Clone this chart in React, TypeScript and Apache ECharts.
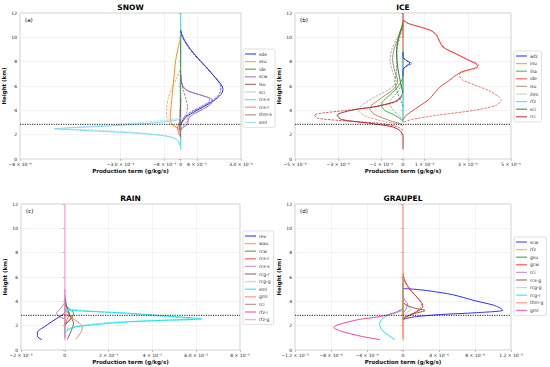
import React, { useEffect, useRef } from 'react';
import * as echarts from 'echarts';

// ---------------- axes / ticks ----------------
const heightMin = 0;
const heightMax = 12;
const heightStep = 2;
const freezingLevel = 2.85;

const snowTicks = [-8e-4, -3e-4, -8e-5, 0, 8e-5, 3e-4];
const snowTickLabels = ['−8 × 10⁻⁴', '−3.0 × 10⁻⁴', '−8 × 10⁻⁵', '0', '8 × 10⁻⁵', '3.0 × 10⁻⁴'];
const iceTicks = [-5e-4, -3e-4, -1e-4, 0, 1e-4, 3e-4, 5e-4];
const iceTickLabels = ['−5 × 10⁻⁴', '−3 × 10⁻⁴', '−1 × 10⁻⁴', '0', '1 × 10⁻⁴', '3 × 10⁻⁴', '5 × 10⁻⁴'];
const rainTicks = [-2e-5, 0, 2e-5, 4e-5, 6e-5, 8e-5];
const rainTickLabels = ['−2 × 10⁻⁵', '0', '2 × 10⁻⁵', '4 × 10⁻⁵', '6.0 × 10⁻⁵', '8 × 10⁻⁵'];
const graupelTicks = [-1.2e-3, -8e-4, -4e-4, 0, 4e-4, 8e-4, 1.2e-3];
const graupelTickLabels = ['−1.2 × 10⁻³', '−8 × 10⁻⁴', '−4 × 10⁻⁴', '0', '4 × 10⁻⁴', '8 × 10⁻⁴', '1.2 × 10⁻³'];

// ---------------- SNOW: [production term (g/kg/s), height (km)] ----------------
const snowSdeSolid = [[0,10.6],[4e-6,10.3],[1.8e-5,9.8],[4.5e-5,9.1],[8.5e-5,8.3],[1.3e-4,7.5],[1.72e-4,6.7],[2.02e-4,6.1],[2.1e-4,5.7],[2.0e-4,5.3],[1.65e-4,4.8],[1.2e-4,4.35],[7e-5,3.9],[3e-5,3.5],[1e-5,3.1],[0,2.8]];
const snowSdeDashed = [[0,10.5],[6e-6,10.1],[2.5e-5,9.5],[6e-5,8.7],[1.05e-4,7.9],[1.5e-4,7.1],[1.85e-4,6.4],[2.0e-4,5.9],[1.97e-4,5.5],[1.8e-4,5.1],[1.45e-4,4.7],[1.0e-4,4.3],[5.5e-5,3.9],[2.2e-5,3.5],[6e-6,3.1],[0,2.9]];
const snowSsuSolid = [[0,10.1],[-6e-6,9.6],[-1.6e-5,8.9],[-2.6e-5,8.0],[-3.2e-5,7.0],[-3.8e-5,6.0],[-4.4e-5,5.0],[-4.9e-5,4.2],[-5.2e-5,3.5],[-4.8e-5,3.0],[-3e-5,2.7],[-1e-5,2.5],[0,2.4]];
const snowSsuDashed = [[0,7.6],[-6e-6,7.2],[-2.2e-5,6.6],[-4.5e-5,5.8],[-6.2e-5,5.0],[-7e-5,4.2],[-7e-5,3.5],[-6e-5,3.0],[-3.5e-5,2.7],[-1e-5,2.55],[0,2.5]];
const snowIdeSolid = [[0,10.2],[-1e-6,8],[-2e-6,6],[-2e-6,4],[-1e-6,3],[0,2.6]];
const snowScwSolid = [[0,7.0],[2e-6,6.5],[1e-5,6.0],[3.5e-5,5.6],[9e-5,5.3],[1.45e-4,5.0],[1.6e-4,4.8],[1.45e-4,4.45],[1.05e-4,4.05],[6.5e-5,3.7],[4.2e-5,3.4],[3.6e-5,3.1],[3.4e-5,2.85],[1.2e-5,2.6],[0,2.35]];
const snowScwDashed = [[0,6.8],[4e-6,6.3],[1.8e-5,5.8],[6e-5,5.45],[1.2e-4,5.15],[1.45e-4,4.95],[1.35e-4,4.6],[9.5e-5,4.2],[5.5e-5,3.8],[3.5e-5,3.4],[2.5e-5,3.0],[8e-6,2.65],[0,2.45]];
const snowLsuSolid = [[0,5],[-2e-6,4],[-5e-6,3.2],[-6e-6,2.7],[-3e-6,2.2],[0,1.8]];
const snowLsuDashed = [[0,6.9],[4e-6,6.3],[1.4e-5,5.6],[2.6e-5,4.9],[3.4e-5,4.3],[3e-5,3.8],[1.6e-5,3.4],[5e-6,3.05],[0,2.85]];
const snowSciSolid = [[0,9],[0,2.5]];
const snowRcsSSolid = [[0,12],[0,0.8]];
const snowRcsRSolid = [[0,3.4],[-4e-6,3.1],[-1.2e-5,2.8],[-1.6e-5,2.5],[-1.2e-5,2.2],[-4e-6,1.9],[0,1.7]];
const snowRcsRDashed = [[0,3.3],[-6e-6,3.0],[-1.4e-5,2.7],[-1e-5,2.4],[0,2.1]];
const snowThmSSolid = [[0,3.4],[-3e-6,3.0],[-6e-6,2.7],[0,2.3]];
const snowSmlSolid = [[0,3.35],[-2e-5,3.2],[-8e-5,3.05],[-2.2e-4,2.85],[-4.2e-4,2.66],[-6.3e-4,2.48],[-5.2e-4,2.38],[-3.8e-4,2.26],[-2.2e-4,2.12],[-1.1e-4,1.97],[-5e-5,1.8],[-2e-5,1.58],[-6e-6,1.25],[0,0.85]];
const snowSmlDashed = [[0,3.45],[-3e-5,3.28],[-1.2e-4,3.12],[-3e-4,2.86],[-5.9e-4,2.5],[-4.6e-4,2.4],[-3e-4,2.27],[-1.5e-4,2.07],[-6e-5,1.88],[-2e-5,1.62],[0,1.2]];

// ---------------- ICE ----------------
const iceWfzSolid = [[0,8.8],[0,8.4],[1.2e-5,8.15],[3.2e-5,7.9],[1.2e-5,7.6],[0,7.3],[0,6.8]];
const iceWfzDashed = [[0,8.3],[1.8e-5,8.05],[4e-5,7.85],[1.5e-5,7.6],[0,7.4]];
const iceInuSolid = [[0,11.3],[0,5.5]];
const iceIhaSolid = [[0,6.8],[-8e-6,6.4],[-3e-5,5.8],[-6.5e-5,5.2],[-9.5e-5,4.7],[-1.0e-4,4.4],[-8.5e-5,4.0],[-5e-5,3.7],[-2e-5,3.4],[0,3.1]];
const iceIhaDashed = [[0,6.5],[-1e-5,6.0],[-3e-5,5.4],[-5.5e-5,4.9],[-6e-5,4.5],[-4.5e-5,4.0],[-2e-5,3.6],[0,3.2]];
const iceIdeSolid = [[0,11.45],[2.3e-5,11.15],[8e-5,10.85],[1.3e-4,10.55],[1.55e-4,10.2],[1.65e-4,9.8],[1.85e-4,9.2],[2.4e-4,8.7],[3.0e-4,8.15],[3.4e-4,7.8],[3.45e-4,7.6],[3.2e-4,7.4],[2.7e-4,7.15],[2.35e-4,6.75],[2.1e-4,6.4],[1.7e-4,5.9],[1.45e-4,5.4],[1.2e-4,4.9],[8e-5,4.4],[3.5e-5,3.85],[1e-5,3.5],[0,3.2]];
const iceIdeDashed = [[0,11.35],[3e-5,11.1],[9e-5,10.8],[1.38e-4,10.5],[1.58e-4,10.1],[1.7e-4,9.7],[1.95e-4,9.1],[2.5e-4,8.6],[3.1e-4,8.1],[3.5e-4,7.75],[3.45e-4,7.5],[2.9e-4,7.25],[2.6e-4,6.9],[2.75e-4,6.5],[3.3e-4,6.1],[4.0e-4,5.6],[4.45e-4,5.1],[4.55e-4,4.8],[4.3e-4,4.4],[3.3e-4,4.0],[1.6e-4,3.6],[4e-5,3.25],[0,3.0]];
const iceIsuSolid = [[0,11.0],[-2e-5,10.0],[-4.2e-5,9.0],[-4.8e-5,8.2],[-3.8e-5,7.2],[-2.4e-5,6.4],[-4e-5,5.8],[-8.5e-5,5.2],[-1.25e-4,4.7],[-1.55e-4,4.2],[-1.35e-4,3.7],[-6e-5,3.15],[-1.2e-5,2.9],[0,2.75]];
const iceIsuDashed = [[0,11.1],[-2.4e-5,10.05],[-5.2e-5,9.0],[-6e-5,8.1],[-4.6e-5,7.06],[-3e-5,6.3],[-7e-5,5.67],[-1.3e-4,5.1],[-1.76e-4,4.6],[-2.08e-4,4.05],[-1.78e-4,3.55],[-8.5e-5,3.08],[-1.5e-5,2.85],[0,2.7]];
const iceIhmSolid = [[0,10],[0,3]];
const iceRfzSolid = [[0,8.9],[0,3.0]];
const iceSciSolid = [[0,11.3],[-5e-6,10.9],[-2.2e-5,9.9],[-3e-5,8.8],[-2.5e-5,7.6],[-1.6e-5,6.7],[-8e-6,6.0],[0,5.4]];
const iceSciDashed = [[0,11.0],[-1.2e-5,10.2],[-2.6e-5,9.2],[-2.8e-5,8.2],[-3e-5,7.2],[-3.8e-5,6.3],[-2.5e-5,5.4],[-8e-6,4.7],[0,4.3]];
const iceRciSolid = [[0,12],[0,5.6],[-1e-5,5.1],[-4e-5,4.7],[-1.3e-4,4.3],[-2.4e-4,4.0],[-3.05e-4,3.6],[-2.85e-4,3.25],[-1.6e-4,2.95],[-5e-5,2.65],[-1.5e-5,2.35],[-4e-6,2.1],[0,1.95],[0,0.8]];
const iceRciDashed = [[0,5.2],[-2.5e-5,4.75],[-1.1e-4,4.35],[-2.6e-4,4.0],[-4.1e-4,3.62],[-3.95e-4,3.35],[-2.6e-4,3.12],[-1.0e-4,2.92],[-2.5e-5,2.65],[0,2.35]];

// ---------------- RAIN ----------------
const rainRevSolid = [[0,3.05],[-1e-6,2.9],[-4.5e-6,2.5],[-9e-6,1.95],[-1.25e-5,1.45],[-1.25e-5,1.12],[-1.05e-5,0.85]];
const rainWauSolid = [[0,3.5],[0,1.0]];
const rainRcwSolid = [[0,3.7],[2e-6,3.4],[4e-6,3.0],[3.5e-6,2.7],[1.5e-6,2.35],[0,2.0]];
const rainRcsRSolid = [[0,3.3],[1.5e-6,3.0],[3e-6,2.7],[2e-6,2.4],[0,2.1]];
const rainRcsSSolid = [[0,3.9],[-1.5e-6,3.5],[-3.8e-6,3.0],[-2.5e-6,2.75],[0,2.55]];
const rainRcgRSolid = [[0,4.2],[1e-6,3.4],[2.5e-6,2.8],[4e-6,2.2],[3e-6,1.6],[1.5e-6,1.0],[1e-6,0.85]];
const rainRcgGSolid = [[0,4],[0,1]];
const rainSmlSolid = [[0,3.3],[8e-6,3.2],[2.8e-5,3.04],[4.6e-5,2.8],[6.26e-5,2.55],[4.6e-5,2.45],[2.8e-5,2.3],[1.5e-5,2.1],[5e-6,1.9],[1e-6,1.6],[0,1.3]];
const rainSmlDashed = [[0,3.4],[1.5e-5,3.15],[3.5e-5,2.9],[5.9e-5,2.52],[4e-5,2.42],[2e-5,2.25],[7e-6,2.0],[1e-6,1.7],[0,1.4]];
const rainGmlSolid = [[0,3.0],[2.5e-6,2.7],[6e-6,2.3],[8e-6,1.9],[7.5e-6,1.5],[5e-6,0.85]];
const rainRciSolid = [[0,4.5],[1e-6,3.5],[2e-6,3.0],[1e-6,2.5],[0,2.0]];
const rainRfzISolid = [[0,5],[0,1]];
const rainRfzGSolid = [[0,12],[0,0.8]];

// ---------------- GRAUPEL ----------------
const graupelScwSolid = [[0,5.05],[1.2e-4,5.0],[3e-4,4.85],[5.5e-4,4.55],[8e-4,4.05],[1.0e-3,3.7],[1.08e-3,3.45],[1.11e-3,3.26],[8e-4,3.06],[4.3e-4,2.92],[1.5e-4,2.75],[4e-5,2.6],[0,2.5]];
const graupelRfzSolid = [[0,5.5],[0,1]];
const graupelGsuSolid = [[0,6],[0,2.5]];
const graupelGcwSolid = [[0,6.3],[1.5e-5,5.8],[5e-5,5.3],[1.1e-4,4.7],[1.75e-4,4.2],[2.15e-4,3.8],[2.2e-4,3.55],[1.8e-4,3.25],[1e-4,2.95],[3e-5,2.7],[0,2.5]];
const graupelGcwDashed = [[0,6.1],[2e-5,5.6],[6e-5,5.1],[1.2e-4,4.6],[1.8e-4,4.1],[2.05e-4,3.7],[1.9e-4,3.4],[1.2e-4,3.05],[4e-5,2.75],[0,2.55]];
const graupelRciSolid = [[0,4.4],[2e-5,4.1],[5e-5,3.8],[4e-5,3.45],[1e-5,3.1],[0,2.9]];
const graupelRcsGSolid = [[0,3.9],[5e-5,3.65],[1.4e-4,3.42],[2.45e-4,3.25],[1.3e-4,3.0],[4e-5,2.75],[0,2.55]];
const graupelRcgGSolid = [[0,4.0],[3e-5,3.7],[9e-5,3.35],[4e-5,3.05],[0,2.8]];
const graupelRcgRSolid = [[0,3.25],[-8e-5,3.05],[-1.6e-4,2.9],[-2.37e-4,2.5],[-2.6e-4,2.1],[-2.37e-4,1.67],[-1.44e-4,1.12],[-8.9e-5,0.85]];
const graupelThmGSolid = [[0,12],[0,0.8]];
const graupelGmlSolid = [[0,3.4],[-8e-5,3.1],[-2.37e-4,2.77],[-4.96e-4,2.5],[-7.2e-4,2.08],[-7.7e-4,1.87],[-6.8e-4,1.53],[-4.6e-4,1.12],[-2.55e-4,0.85]];

// ---------------- legend names / colours ----------------
const snowNames = ['sde', 'ssu', 'ide', 'scw', 'lsu', 'sci', 'rcs-s', 'rcs-r', 'thm-s', 'sml'];
const snowColors = ['#2020ff', '#ff8c1a', '#2ca02c', '#9467bd', '#8c564b', '#c7c7c7', '#17e5f0', '#ff7060', '#a07868', '#7fdcf0'];
const iceNames = ['wfz', 'inu', 'iha', 'ide', 'isu', 'ihm', 'rfz', 'sci', 'rci'];
const iceColors = ['#2020ff', '#ff8c1a', '#3cb043', '#ff3b3b', '#b08a6a', '#c7c7c7', '#17e5f0', '#2e7d32', '#c0202a'];
const rainNames = ['rev', 'wau', 'rcw', 'rcs-r', 'rcs-s', 'rcg-r', 'rcg-g', 'sml', 'gml', 'rci', 'rfz-i', 'rfz-g'];
const rainColors = ['#2020ff', '#ff8c1a', '#2ca02c', '#e8403a', '#b080c8', '#8c564b', '#c7c7c7', '#17e5f0', '#ff7f6a', '#a08070', '#ff3fa0', '#ff8fd0'];
const graupelNames = ['scw', 'rfz', 'gsu', 'gcw', 'rci', 'rcs-g', 'rcg-g', 'rcg-r', 'thm-g', 'gml'];
const graupelColors = ['#3030ff', '#ff9f40', '#2ca02c', '#ff2a2a', '#b080c8', '#8c564b', '#c7c7c7', '#17e5f0', '#ff7f60', '#ff3fa0'];

type Curve = [string, number[][], boolean];
const snowCurves: Curve[] = [
  ['rcs-s', snowRcsSSolid, false], ['sci', snowSciSolid, false], ['ide', snowIdeSolid, false],
  ['sde', snowSdeSolid, false], ['sde', snowSdeDashed, true],
  ['ssu', snowSsuSolid, false], ['ssu', snowSsuDashed, true],
  ['scw', snowScwSolid, false], ['scw', snowScwDashed, true],
  ['lsu', snowLsuSolid, false], ['lsu', snowLsuDashed, true],
  ['rcs-r', snowRcsRSolid, false], ['rcs-r', snowRcsRDashed, true],
  ['thm-s', snowThmSSolid, false],
  ['sml', snowSmlSolid, false], ['sml', snowSmlDashed, true],
];
const iceCurves: Curve[] = [
  ['rci', iceRciSolid, false], ['rci', iceRciDashed, true],
  ['inu', iceInuSolid, false], ['ihm', iceIhmSolid, false], ['rfz', iceRfzSolid, false],
  ['wfz', iceWfzSolid, false], ['wfz', iceWfzDashed, true],
  ['iha', iceIhaSolid, false], ['iha', iceIhaDashed, true],
  ['isu', iceIsuSolid, false], ['isu', iceIsuDashed, true],
  ['sci', iceSciSolid, false], ['sci', iceSciDashed, true],
  ['ide', iceIdeSolid, false], ['ide', iceIdeDashed, true],
];
const rainCurves: Curve[] = [
  ['wau', rainWauSolid, false], ['rcg-g', rainRcgGSolid, false], ['rfz-i', rainRfzISolid, false],
  ['rci', rainRciSolid, false], ['rcw', rainRcwSolid, false], ['rcs-r', rainRcsRSolid, false],
  ['rcs-s', rainRcsSSolid, false], ['rcg-r', rainRcgRSolid, false],
  ['rev', rainRevSolid, false], ['gml', rainGmlSolid, false],
  ['sml', rainSmlSolid, false], ['sml', rainSmlDashed, true],
  ['rfz-g', rainRfzGSolid, false],
];
const graupelCurves: Curve[] = [
  ['rfz', graupelRfzSolid, false], ['gsu', graupelGsuSolid, false],
  ['scw', graupelScwSolid, false],
  ['gcw', graupelGcwSolid, false], ['gcw', graupelGcwDashed, true],
  ['rci', graupelRciSolid, false], ['rcg-g', graupelRcgGSolid, false],
  ['rcs-g', graupelRcsGSolid, false],
  ['rcg-r', graupelRcgRSolid, false], ['gml', graupelGmlSolid, false],
  ['thm-g', graupelThmGSolid, false],
];

const FONT = 'DejaVu Sans';

export default function App() {
  const ref = useRef<HTMLDivElement>(null);
  useEffect(() => {
    document.body.style.margin = '0';
    if (!ref.current) return;
    const chart = echarts.init(ref.current, undefined, { renderer: 'svg' });

    const panels = [
      { title: 'SNOW', tag: '(a)', ticks: snowTicks, labels: snowTickLabels, names: snowNames, colors: snowColors, curves: snowCurves,
        grid: { left: 20, top: 13, width: 221, height: 146 }, legend: { left: 243, top: 49 } },
      { title: 'ICE', tag: '(b)', ticks: iceTicks, labels: iceTickLabels, names: iceNames, colors: iceColors, curves: iceCurves,
        grid: { left: 295, top: 13, width: 216, height: 146 }, legend: { left: 514, top: 51 } },
      { title: 'RAIN', tag: '(c)', ticks: rainTicks, labels: rainTickLabels, names: rainNames, colors: rainColors, curves: rainCurves,
        grid: { left: 21, top: 204, width: 219, height: 146 }, legend: { left: 243, top: 231 } },
      { title: 'GRAUPEL', tag: '(d)', ticks: graupelTicks, labels: graupelTickLabels, names: graupelNames, colors: graupelColors, curves: graupelCurves,
        grid: { left: 295, top: 204, width: 216, height: 146 }, legend: { left: 514, top: 237 } },
    ];

    const grids: any[] = [];
    const xAxes: any[] = [];
    const yAxes: any[] = [];
    const titles: any[] = [];
    const legends: any[] = [];
    const series: any[] = [];

    panels.forEach((p, i) => {
      const xmin = p.ticks[0];
      const xmax = p.ticks[p.ticks.length - 1];
      grids.push({ ...p.grid, show: true, borderColor: '#c4c4c4', borderWidth: 0.8, containLabel: false });
      xAxes.push({
        type: 'value', gridIndex: i, min: xmin, max: xmax,
        axisLine: { show: false },
        axisTick: { show: true, customValues: p.ticks, length: 2, lineStyle: { color: '#999', width: 0.6 } },
        axisLabel: {
          customValues: p.ticks, fontSize: 4.5, fontFamily: FONT, color: '#222', margin: 3,
          formatter: (v: number) => {
            const k = p.ticks.findIndex((t) => Math.abs(t - v) < Math.abs(xmax - xmin) * 1e-6);
            return k >= 0 ? p.labels[k] : '';
          },
        },
        splitLine: { show: true, lineStyle: { color: '#ebebeb', width: 0.6 } },
        name: 'Production term (g/kg/s)', nameLocation: 'middle', nameGap: 9,
        nameTextStyle: { fontSize: 5.5, fontWeight: 'bold', fontFamily: FONT, color: '#111' },
      });
      yAxes.push({
        type: 'value', gridIndex: i, min: heightMin, max: heightMax, interval: heightStep,
        axisLine: { show: false },
        axisTick: { show: true, length: 2, lineStyle: { color: '#999', width: 0.6 } },
        axisLabel: { fontSize: 4.5, fontFamily: FONT, color: '#222', margin: 3 },
        splitLine: { show: true, lineStyle: { color: '#ebebeb', width: 0.6 } },
        name: 'Height (km)', nameLocation: 'middle', nameRotate: 90, nameGap: 10,
        nameTextStyle: { fontSize: 5.5, fontWeight: 'bold', fontFamily: FONT, color: '#111' },
      });
      titles.push({
        text: p.title, left: p.grid.left + p.grid.width / 2, top: p.grid.top - 10, textAlign: 'center',
        textStyle: { fontSize: 7.5, fontWeight: 'bold', fontFamily: FONT, color: '#000' },
        padding: 0,
      });
      titles.push({
        text: p.tag, left: p.grid.left + 5, top: p.grid.top + 4,
        textStyle: { fontSize: 5.5, fontWeight: 'normal', fontFamily: FONT, color: '#000' },
        padding: 0,
      });
      legends.push({
        orient: 'vertical', left: p.legend.left, top: p.legend.top,
        itemWidth: 11, itemHeight: 1.3, itemGap: 1.6, icon: 'rect',
        padding: [2, 3, 2, 2], borderColor: '#cccccc', borderWidth: 0.6, borderRadius: 1.5,
        backgroundColor: '#fff',
        textStyle: { fontSize: 4.5, fontFamily: FONT, color: '#333', lineHeight: 6, padding: [0, 0, 0, -2] },
        selectedMode: false,
        data: p.names.map((n, k) => ({ name: n, icon: 'rect', itemStyle: { color: p.colors[k], opacity: 0.75 } })),
      });
      p.curves.forEach(([name, data, dashed]) => {
        const color = p.colors[p.names.indexOf(name)];
        series.push({
          type: 'line', name, data, xAxisIndex: i, yAxisIndex: i,
          symbol: 'none', showSymbol: false, smooth: data.length > 4 ? 0.25 : false, silent: true,
          lineStyle: { color, width: dashed ? 0.9 : 1, type: dashed ? [2.5, 1.2] : 'solid', opacity: dashed ? 0.8 : 1 },
          itemStyle: { color },
        });
      });
      series.push({
        type: 'line', name: 'freezing level', data: [[xmin, freezingLevel], [xmax, freezingLevel]],
        xAxisIndex: i, yAxisIndex: i, symbol: 'none', silent: true,
        lineStyle: { color: '#222', width: 1, type: [1.2, 1.2] }, z: 5,
      });
    });

    chart.setOption({
      animation: false,
      backgroundColor: '#ffffff',
      textStyle: { fontFamily: FONT },
      title: titles,
      grid: grids,
      xAxis: xAxes,
      yAxis: yAxes,
      legend: legends,
      series,
    });
    return () => chart.dispose();
  }, []);
  return <div ref={ref} style={{ width: 550, height: 367 }} />;
}
